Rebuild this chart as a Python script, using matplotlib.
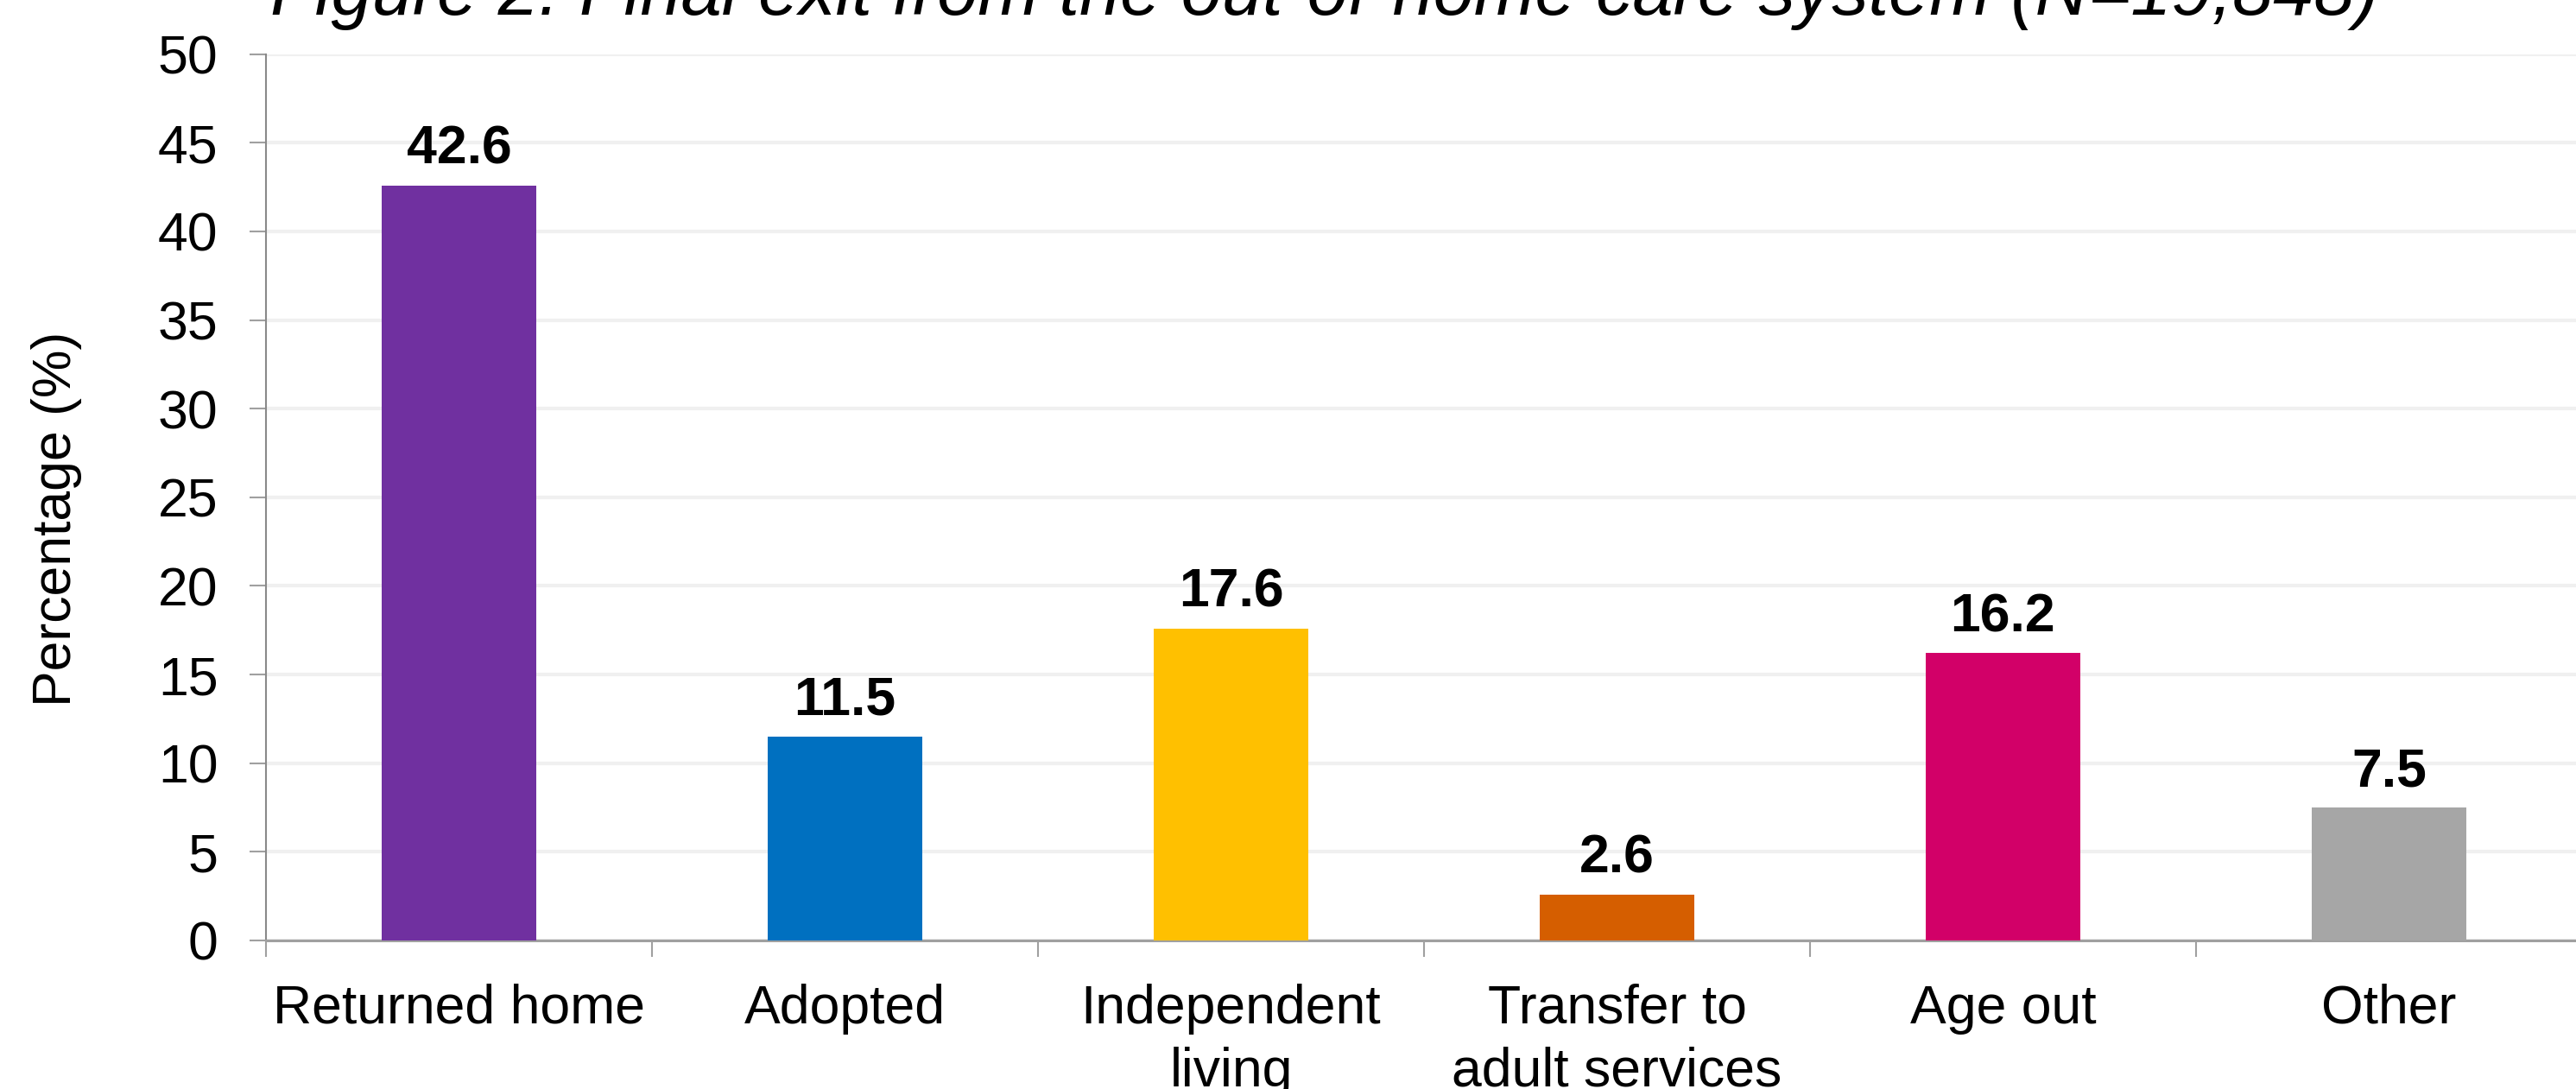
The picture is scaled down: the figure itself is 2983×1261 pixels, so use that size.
import numpy as np
import matplotlib.pyplot as plt

plt.rcParams['font.family'] = ['Liberation Sans', 'DejaVu Sans']

categories = ["Returned home", "Adopted", "Independent\nliving",
              "Transfer to\nadult services", "Age out", "Other"]
values = [42.6, 11.5, 17.6, 2.6, 16.2, 7.5]
colors = ["#7030A0", "#0070C0", "#FFC000", "#D55E00", "#D20068", "#A6A6A6"]
title = "Figure 2: Final exit from the out-of-home care system (N=19,848)"

fig = plt.figure(figsize=(29.83, 12.61), dpi=100)
ax = fig.add_axes([0.1033, 0.1364, 0.899, 0.8139])

x = np.arange(len(categories))
bars = ax.bar(x, values, width=0.4, color=colors, zorder=3)

# value labels above bars
for xi, v in zip(x, values):
    ax.annotate(f"{v:.1f}", (xi, v), xytext=(0, 18), textcoords="offset points",
                ha="center", va="baseline", fontsize=45, fontweight="bold")

ax.set_ylim(0, 50)
ax.set_xlim(-0.5, len(categories) - 0.5)
ax.set_yticks(np.arange(0, 51, 5))
ax.yaxis.grid(True, color="#F0F0F0", linewidth=3, zorder=0)
ax.set_axisbelow(True)

# category labels in the middle, tick marks on the boundaries
ax.set_xticks(x)
ax.set_xticklabels(categories, fontsize=45, linespacing=1.3)
ax.tick_params(axis="x", which="major", length=0, pad=36)
ax.set_xticks(np.arange(-0.5, len(categories), 1.0), minor=True)
ax.tick_params(axis="x", which="minor", length=14, width=1.5, color="#A0A0A0")
ax.tick_params(axis="y", labelsize=45, length=14, width=1.5, color="#A0A0A0", pad=26)

for s in ["top", "right"]:
    ax.spines[s].set_visible(False)
ax.spines["left"].set_color("#898989")
ax.spines["left"].set_linewidth(1.5)
ax.spines["bottom"].set_color("#A0A0A0")
ax.spines["bottom"].set_linewidth(2.2)

fig.text(66 / 2983, 1 - 601 / 1261, "Percentage (%)", rotation=90,
         ha="center", va="center", fontsize=45)
fig.text(1534 / 2983, 1 - 17 / 1261, title, ha="center", va="baseline",
         fontsize=61, style="italic")

fig.savefig("out.png", dpi=100)
